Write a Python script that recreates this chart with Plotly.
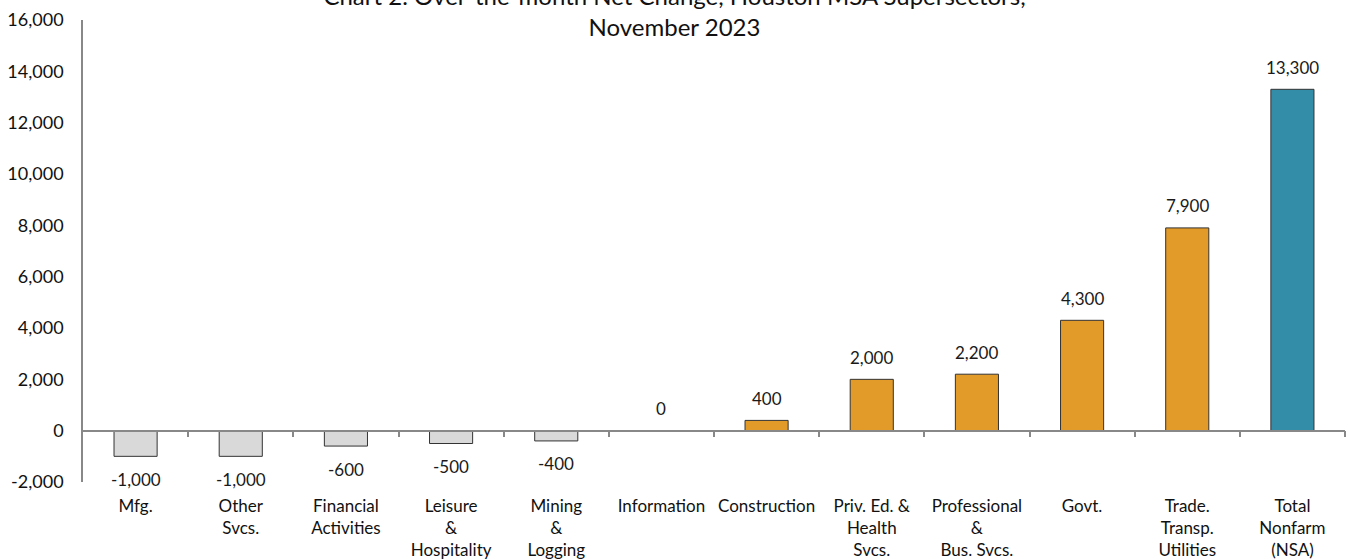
import plotly.graph_objects as go

# Over-the-month net change by supersector, Houston MSA, November 2023
categories = [
    "Mfg.", "Other<br>Svcs.", "Financial<br>Activities", "Leisure<br>&<br>Hospitality",
    "Mining<br>&<br>Logging", "Information", "Construction", "Priv. Ed. &<br>Health<br>Svcs.",
    "Professional<br>&<br>Bus. Svcs.", "Govt.", "Trade.<br>Transp.<br>Utilities",
    "Total<br>Nonfarm<br>(NSA)",
]
net_change = [-1000, -1000, -600, -500, -400, 0, 400, 2000, 2200, 4300, 7900, 13300]
y_ticks = [-2000, 0, 2000, 4000, 6000, 8000, 10000, 12000, 14000, 16000]

GRAY = "#D9D9D9"
ORANGE = "#E29A28"
TEAL = "#338DA8"
AXIS = "#888888"
FONT = "Lato, DejaVu Sans, sans-serif"


def bar_color(i, v):
    if i == len(net_change) - 1:
        return TEAL
    return ORANGE if v > 0 else GRAY


colors = [bar_color(i, v) for i, v in enumerate(net_change)]
positions = list(range(len(categories)))
n = len(categories)

fig = go.Figure()
fig.add_trace(go.Bar(
    x=positions,
    y=net_change,
    marker=dict(color=colors, line=dict(color="#333333", width=1)),
    width=0.41,
    hoverinfo="skip",
))
# invisible companion trace so the zero-line axis is rendered
fig.add_trace(go.Scatter(
    x=positions, y=net_change, xaxis="x2", mode="markers",
    marker=dict(opacity=0), hoverinfo="skip",
))

# value labels above positive bars, below negative ones
for i, v in enumerate(net_change):
    fig.add_annotation(
        x=i, y=v, text=f"{v:,}", showarrow=False,
        yshift=-23 if v < 0 else 22,
        font=dict(family=FONT, size=17, color="#1a1a1a"),
    )

fig.update_layout(
    width=1349, height=559,
    margin=dict(l=83, r=4, t=20, b=77),
    paper_bgcolor="white", plot_bgcolor="white",
    showlegend=False,
    title=dict(
        text="Chart 2. Over-the-month Net Change, Houston MSA Supersectors,<br>November 2023",
        x=0.5, xanchor="center", y=0.991, yanchor="middle",
        font=dict(family=FONT, size=24, color="#111111"),
    ),
    xaxis=dict(
        range=[-0.5, n - 0.5],
        tickvals=positions, ticktext=categories,
        showline=False, showgrid=False, zeroline=False, ticks="",
        ticklabelstandoff=12, automargin=False,
        tickfont=dict(family=FONT, size=17, color="#111111"),
    ),
    # zero line with tick marks on the category boundaries
    xaxis2=dict(
        overlaying="x", anchor="free",
        position=(0 - y_ticks[0]) / (y_ticks[-1] - y_ticks[0]),
        range=[-0.5, n - 0.5],
        tickvals=[p + 0.5 for p in positions],
        ticks="outside", ticklen=6, tickcolor=AXIS, tickwidth=1.5,
        showticklabels=False, showline=True, linecolor=AXIS, linewidth=1.5,
        showgrid=False, zeroline=False, automargin=False,
    ),
    yaxis=dict(
        range=[y_ticks[0], y_ticks[-1]],
        tickvals=y_ticks, ticktext=[f"{t:,}" for t in y_ticks],
        showline=True, linecolor=AXIS, linewidth=1.5,
        showgrid=False, zeroline=False, ticks="",
        ticklabelstandoff=14, automargin=False,
        tickfont=dict(family=FONT, size=18, color="#111111"),
    ),
)

fig.write_html("out.html")
